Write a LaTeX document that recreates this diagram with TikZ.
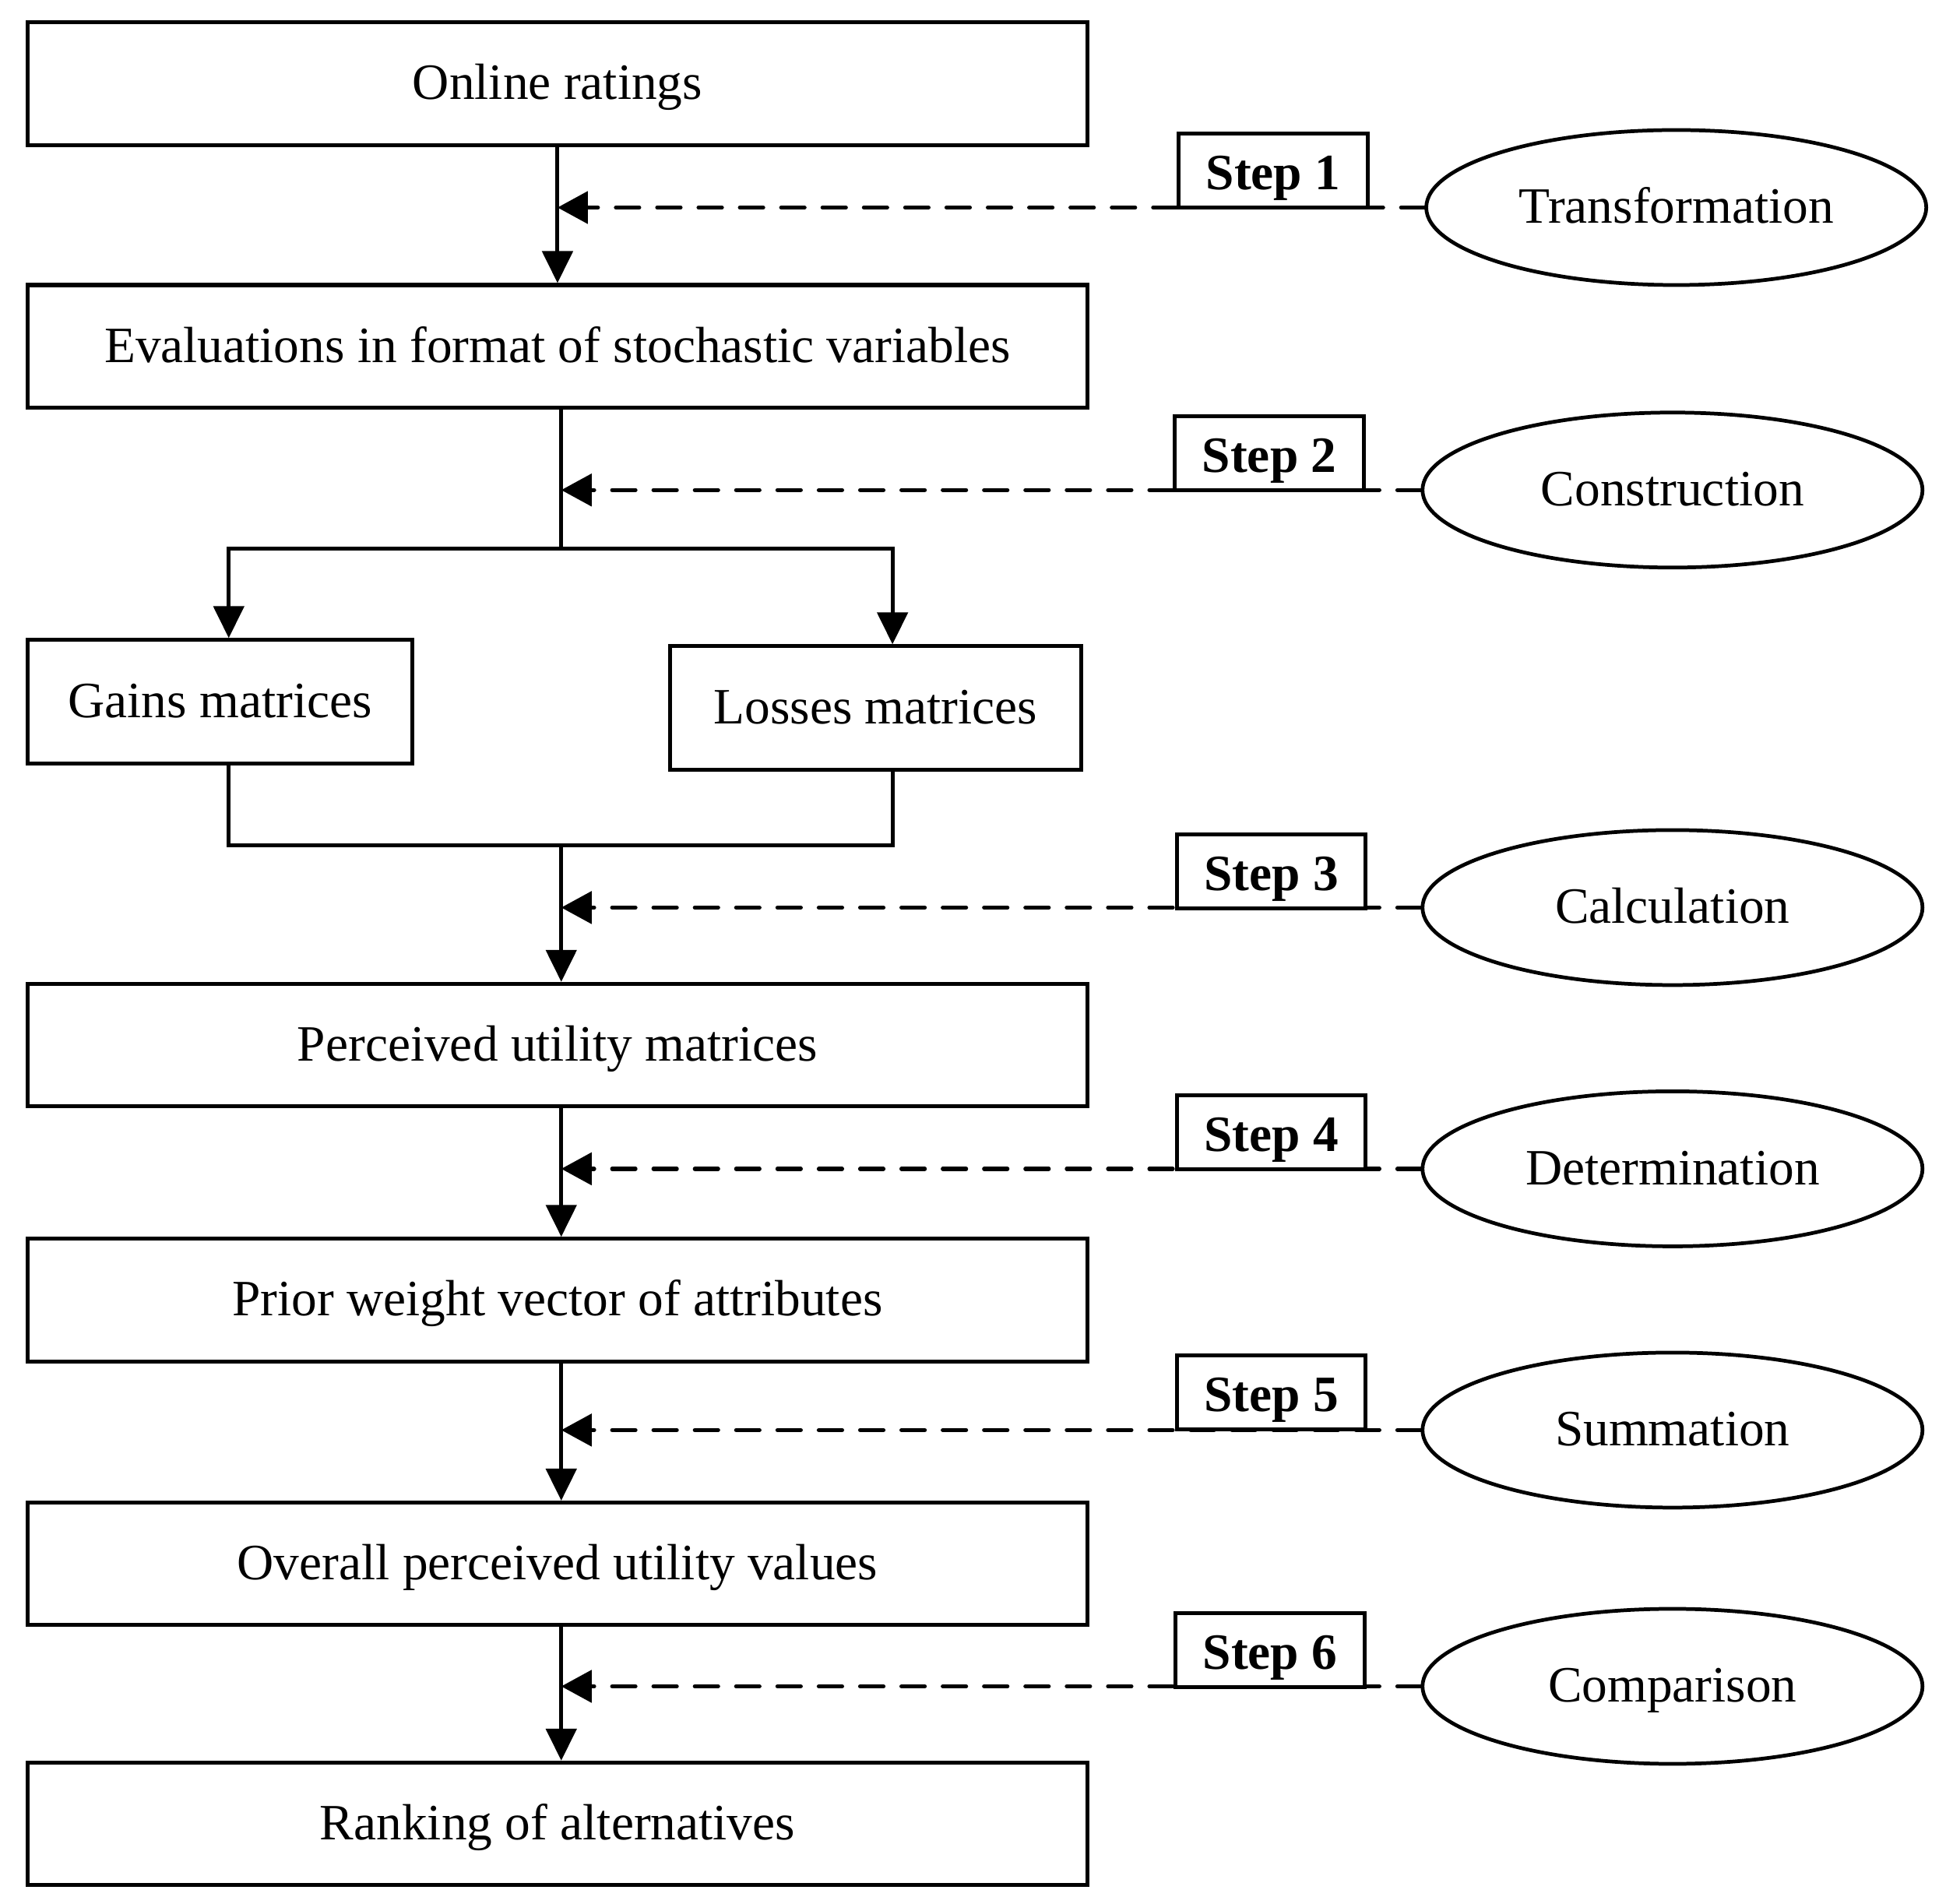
\documentclass[tikz,border=0pt]{standalone}
\usepackage{fontspec}
\setmainfont{Liberation Serif}
\usetikzlibrary{arrows.meta,shapes.geometric}
\newcommand{\dpx}{0.016052cm}
\begin{document}
\begin{tikzpicture}[x=\dpx,y=-\dpx,
  txt/.style={font=\fontsize{18.6}{22}\selectfont, text height=15.3pt, text depth=3.7pt},
  mainbox/.style={txt, draw, line width=1.45pt, minimum width=848*\dpx, minimum height=98*\dpx, inner sep=0pt},
  subbox/.style={txt, draw, line width=1.45pt, minimum height=99*\dpx, inner sep=0pt},
  stepbox/.style={txt, font=\fontsize{18.6}{22}\selectfont\bfseries, text height=17.6pt, text depth=3.7pt, draw, fill=white, line width=1.45pt, minimum width=151*\dpx, minimum height=59*\dpx, inner sep=0pt},
  opbox/.style={txt, draw, ellipse, line width=1.35pt, minimum width=400*\dpx, minimum height=124*\dpx, inner sep=0pt},
  conn/.style={line width=1.45pt},
  arr/.style={conn, -{Triangle[length=0.41cm, width=0.39cm]}},
  darr/.style={line width=1.5pt, line cap=round, dash pattern=on 8.5pt off 6.6pt, -{Triangle[length=0.39cm, width=0.41cm]}}
]
\useasboundingbox (0,0) rectangle (1568,1523);

% main boxes
\node[mainbox] (on) at (446,67) {Online ratings};
\node[mainbox] (ev) at (446,277) {Evaluations in format of stochastic variables};
\node[subbox, minimum width=308*\dpx] (gains) at (176,561.5) {Gains matrices};
\node[subbox, minimum width=329*\dpx] (losses) at (700.5,566.5) {Losses matrices};
\node[mainbox] (perc) at (446,836) {Perceived utility matrices};
\node[mainbox] (prior) at (446,1040) {Prior weight vector of attributes};
\node[mainbox] (over) at (446,1251) {Overall perceived utility values};
\node[mainbox] (rank) at (446,1459) {Ranking of alternatives};

% helper coordinates
\coordinate (tk) at (449,0);
\coordinate (sM) at (449,439);
\coordinate (sL) at (183,439);
\coordinate (sR) at (714,439);
\coordinate (mM) at (449,676);
\coordinate (mL) at (183,676);
\coordinate (mR) at (714,676);

% operation ellipses
\node[opbox] (e1) at (1341,166) {Transformation};
\node[opbox] (e2) at (1338,392) {Construction};
\node[opbox] (e3) at (1338,726) {Calculation};
\node[opbox] (e4) at (1338,935) {Determination};
\node[opbox] (e5) at (1338,1144) {Summation};
\node[opbox] (e6) at (1338,1349) {Comparison};

% solid flow
\draw[arr] (on.south) -- (ev.north);
\draw[conn] (ev.south -| tk) -- (sM);
\draw[arr] (sM) -- (sL) -- (sL |- gains.north);
\draw[arr] (sM) -- (sR) -- (sR |- losses.north);
\draw[conn] (sL |- gains.south) -- (mL) -- (mR) -- (sR |- losses.south);
\draw[arr] (mM) -- (perc.north -| tk);
\draw[arr] (perc.south -| tk) -- (prior.north -| tk);
\draw[arr] (prior.south -| tk) -- (over.north -| tk);
\draw[arr] (over.south -| tk) -- (rank.north -| tk);

% dashed step arrows
\draw[darr] (e1.west) -- (e1.west -| on.south);
\draw[darr] (e2.west) -- (e2.west -| tk);
\draw[darr] (e3.west) -- (e3.west -| tk);
\draw[darr] (e4.west) -- (e4.west -| tk);
\draw[darr] (e5.west) -- (e5.west -| tk);
\draw[darr] (e6.west) -- (e6.west -| tk);

% step boxes
\node[stepbox, anchor=south] (s1) at (1018.5,167.5) {Step 1};
\node[stepbox, anchor=south] (s2) at (1015.5,393.5) {Step 2};
\node[stepbox, anchor=south] (s3) at (1017,728) {Step 3};
\node[stepbox, anchor=south] (s4) at (1017,937) {Step 4};
\node[stepbox, anchor=south] (s5) at (1017,1145) {Step 5};
\node[stepbox, anchor=south] (s6) at (1016,1351) {Step 6};
\end{tikzpicture}
\end{document}
